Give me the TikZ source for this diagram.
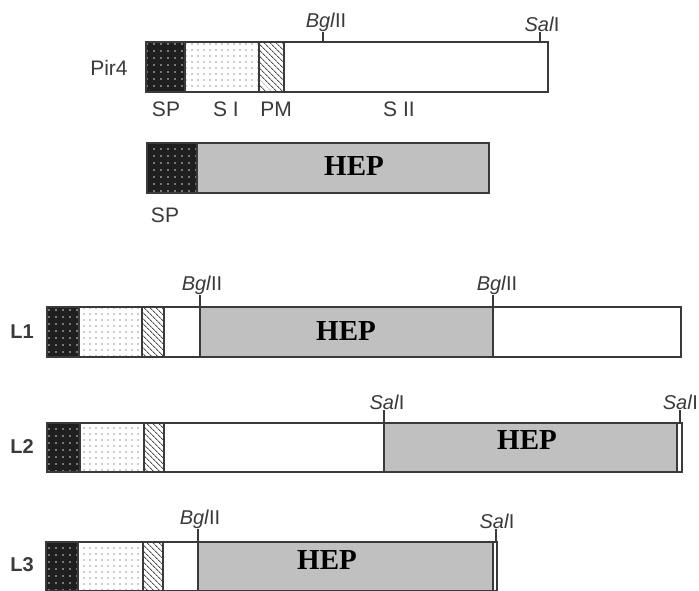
\documentclass[tikz,border=0pt]{standalone}
\usepackage{fontspec}
\setmainfont{Liberation Sans}
\newfontfamily\hepfont{Liberation Serif}
\usetikzlibrary{patterns.meta}
\definecolor{ink}{HTML}{3A3A3A}
\definecolor{hepgray}{HTML}{C0C0C0}
\tikzset{
  outline/.style={draw=ink, line width=1.4pt},
  divider/.style={draw=ink, line width=1.1pt},
  spfill/.style={fill=black!88, postaction={pattern={Dots[radius=1.1pt, distance=7pt]}, pattern color=black!40}},
  sifill/.style={fill=white, postaction={pattern={Dots[radius=0.9pt, distance=6pt]}, pattern color=black!40}},
  pmfill/.style={fill=white, postaction={pattern={Lines[angle=-45, distance=4pt, line width=0.9pt]}, pattern color=black!70}},
  hepfill/.style={fill=hepgray},
  lbl/.style={text=ink, font=\fontsize{21}{23}\selectfont, inner sep=0pt},
  rowlbl/.style={text=ink, font=\fontsize{20}{22}\selectfont\bfseries, inner sep=0pt},
  heplbl/.style={text=black, font=\hepfont\fontsize{29}{31}\selectfont\bfseries, inner sep=0pt},
  site/.style={text=ink, font=\fontsize{20}{22}\selectfont, inner sep=0pt, anchor=south},
  tick/.style={draw=ink, line width=1.1pt}
}
\newcommand\bgl{\textit{Bgl}II}
\newcommand\sal{\textit{Sal}I}
\begin{document}
\begin{tikzpicture}[x=1pt, y=-1pt]
\useasboundingbox (0,0) rectangle (699,590);
\fill[white] (0,0) rectangle (699,590);

% ---------- Pir4 ----------
\path[spfill] (146,42) rectangle (185,92);
\path[sifill] (185,42) rectangle (259,92);
\path[pmfill] (259,42) rectangle (284,92);
\draw[divider] (185,42) -- (185,92) (259,42) -- (259,92) (284,42) -- (284,92);
\draw[outline] (146,42) rectangle (548,92);
\coordinate (p4b) at (323,42);
\coordinate (p4s) at (540,42);
\node[site] (p4bl) at (326,32) {\bgl};
\node[site] (p4sl) at (542,32) {\sal};
\draw[tick] (p4b) -- (p4b |- p4bl.south);
\draw[tick] (p4s) -- (p4s |- p4sl.south);
\node[lbl] (pir4) at (109,68) {Pir4};
\node[lbl] (lsp) at (166,109) {SP};
\node[lbl] (lsi) at (226,109) {S I};
\node[lbl] (lpm) at (276,109) {PM};
\node[lbl] (lsii) at (399,109) {S II};

% ---------- SP-HEP ----------
\path[spfill] (147,143) rectangle (197,193);
\path[hepfill] (197,143) rectangle (489,193);
\draw[divider] (197,143) -- (197,193);
\draw[outline] (147,143) rectangle (489,193);
\node[heplbl] (hep0) at (354,166) {HEP};
\node[lbl] (sp0) at (165,215) {SP};

% ---------- L1 ----------
\path[spfill] (47,307) rectangle (79,357);
\path[sifill] (79,307) rectangle (142,357);
\path[pmfill] (142,307) rectangle (164,357);
\path[hepfill] (200,307) rectangle (493,357);
\draw[divider] (79,307) -- (79,357) (142,307) -- (142,357) (164,307) -- (164,357);
\draw[outline] (47,307) rectangle (681,357);
\coordinate (l1a) at (200,357);
\coordinate (l1b) at (493,357);
\node[site] (l1al) at (202,295) {\bgl};
\node[site] (l1bl) at (497,295) {\bgl};
\draw[tick] (l1a) -- (l1a |- l1al.south);
\draw[tick] (l1b) -- (l1b |- l1bl.south);
\node[rowlbl] (L1) at (22,332) {L1};
\node[heplbl] (hep1) at (346,331) {HEP};

% ---------- L2 ----------
\path[spfill] (47,423) rectangle (80,472);
\path[sifill] (80,423) rectangle (144,472);
\path[pmfill] (144,423) rectangle (164,472);
\path[hepfill] (384,423) rectangle (677,472);
\draw[divider] (80,423) -- (80,472) (144,423) -- (144,472) (164,423) -- (164,472) (677,423) -- (677,472);
\draw[outline] (47,423) rectangle (682,472);
\coordinate (l2a) at (384,472);
\coordinate (l2b) at (680,423);
\node[site] (l2al) at (387,410) {\sal};
\node[site, anchor=south east] (l2bl) at (698,410) {\sal};
\draw[tick] (l2a) -- (l2a |- l2al.south);
\draw[tick] (l2b) -- (l2b |- l2bl.south);
\node[rowlbl] (L2) at (22,447) {L2};
\node[heplbl] (hep2) at (527,440) {HEP};

% ---------- L3 ----------
\path[spfill] (46,542) rectangle (78,591);
\path[sifill] (78,542) rectangle (143,591);
\path[pmfill] (143,542) rectangle (163,591);
\path[hepfill] (198,542) rectangle (493,591);
\draw[divider] (78,542) -- (78,591) (143,542) -- (143,591) (163,542) -- (163,591) (493,542) -- (493,591);
\draw[outline] (46,542) rectangle (497,591);
\coordinate (l3a) at (198,591);
\coordinate (l3b) at (496,542);
\node[site] (l3al) at (200,529) {\bgl};
\node[site] (l3bl) at (497,529) {\sal};
\draw[tick] (l3a) -- (l3a |- l3al.south);
\draw[tick] (l3b) -- (l3b |- l3bl.south);
\node[rowlbl] (L3) at (22,565) {L3};
\node[heplbl] (hep3) at (327,560) {HEP};
\end{tikzpicture}
\end{document}
